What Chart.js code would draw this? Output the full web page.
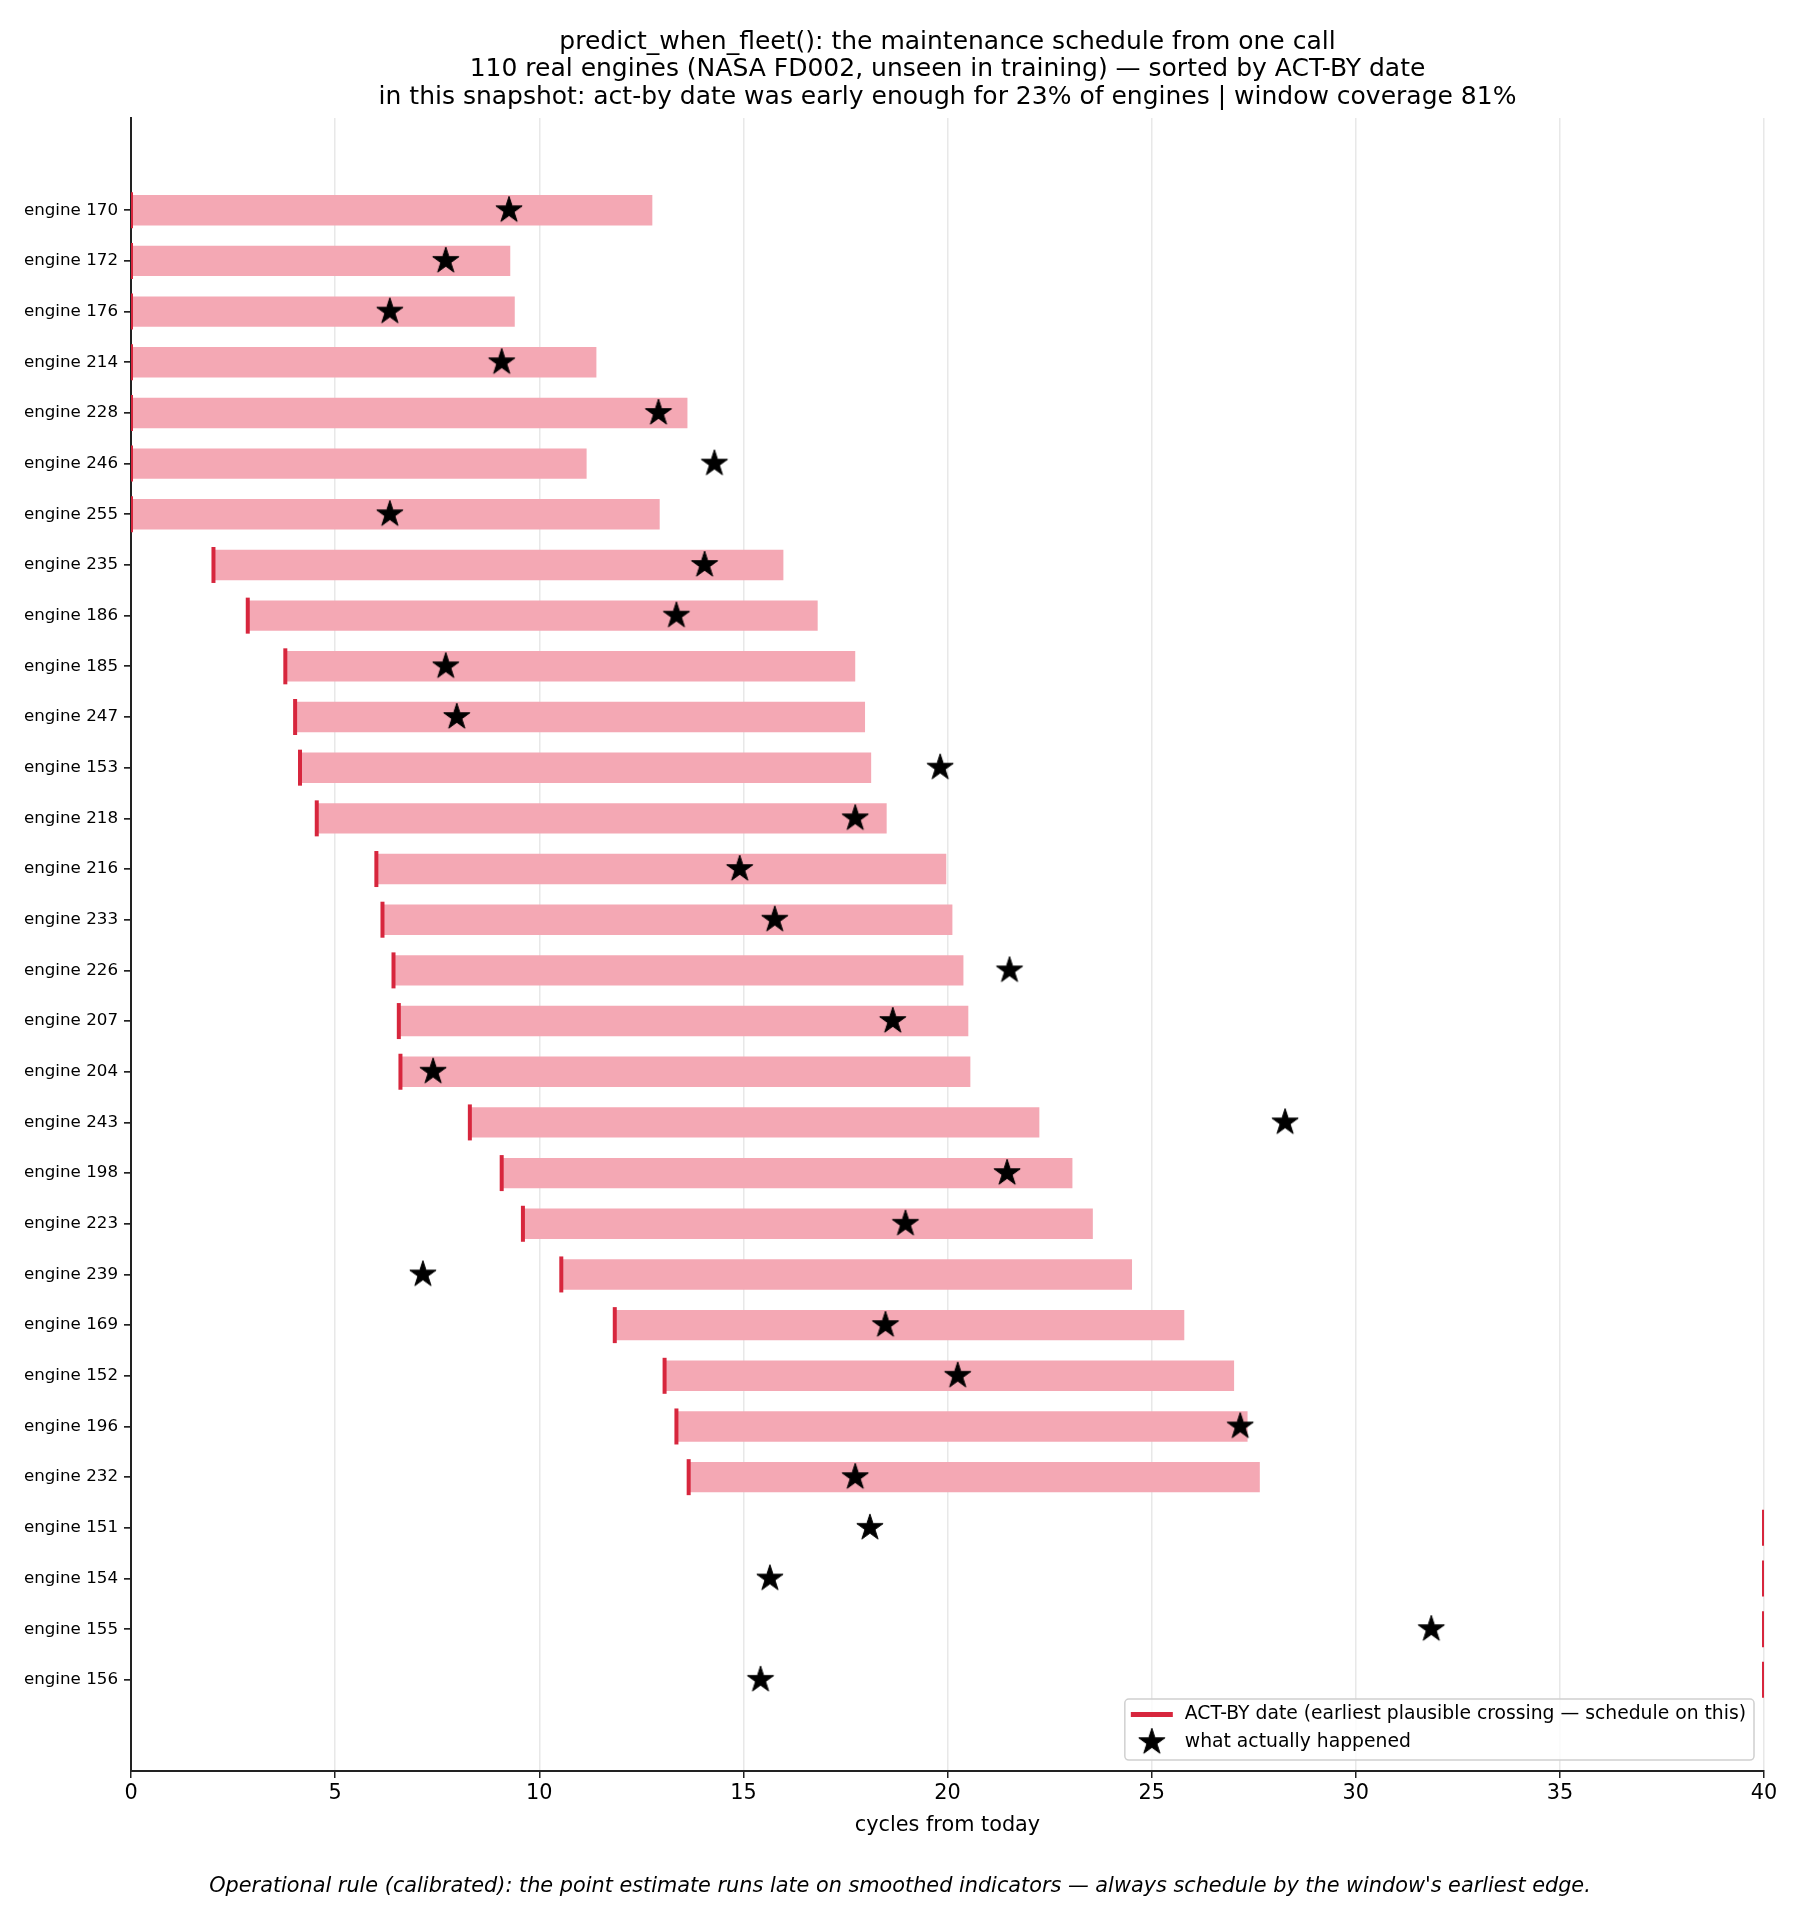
<!DOCTYPE html>
<html>
<head>
<meta charset="utf-8">
<script src="https://cdn.jsdelivr.net/npm/chart.js@4/dist/chart.umd.min.js"></script>
<style>
  html, body { margin: 0; padding: 0; background: #fff; }
  canvas { display: block; }
</style>
</head>
<body>
<canvas id="fleetChart" width="1800" height="1905"></canvas>
<script>
// engines, in the order they are plotted (top to bottom)
const engineIds = [170, 172, 176, 214, 228, 246, 255, 235, 186, 185, 247, 153, 218, 216, 233,
                   226, 207, 204, 243, 198, 223, 239, 169, 152, 196, 232, 151, 154, 155, 156];
// ACT-BY date (start of window), cycles from today
const actBy = [0, 0, 0, 0, 0, 0, 0, 2.02, 2.86, 3.78, 4.02, 4.14, 4.55, 6.01, 6.16,
               6.43, 6.56, 6.60, 8.30, 9.08, 9.60, 10.54, 11.85, 13.07, 13.36, 13.66, 40, 40, 40, 40];
// late edge of the window
const windowEnd = [12.77, 9.29, 9.40, 11.40, 13.63, 11.16, 12.95, 15.98, 16.82, 17.74, 17.98, 18.13, 18.51, 19.97, 20.12,
                   20.39, 20.51, 20.56, 22.25, 23.06, 23.56, 24.52, 25.80, 27.02, 27.35, 27.65, null, null, null, null];
// what actually happened
const actual = [9.26, 7.71, 6.34, 9.08, 12.92, 14.29, 6.34, 14.05, 13.36, 7.71, 7.98, 19.82, 17.74, 14.91, 15.77,
                21.52, 18.66, 7.40, 28.27, 21.46, 18.97, 7.15, 18.48, 20.25, 27.17, 17.74, 18.10, 15.65, 31.85, 15.42];
const xTicksMax = 40;

const engineLabels = engineIds.map(id => 'engine ' + id);
const titleLines = [
    'predict_when_fleet(): the maintenance schedule from one call',
    '110 real engines (NASA FD002, unseen in training) \u2014 sorted by ACT-BY date',
    'in this snapshot: act-by date was early enough for 23% of engines | window coverage 81%'
];
const caption = "Operational rule (calibrated): the point estimate runs late on smoothed indicators \u2014 always schedule by the window's earliest edge.";

const RED = '#d7263d';
const PINK = '#f4a8b4';
const FONT = "'DejaVu Sans', 'Liberation Sans', sans-serif";

// filled star marker (matplotlib '*')
function makeStar(R) {
    const c = document.createElement('canvas');
    const s = Math.ceil(2 * R + 4);
    c.width = s; c.height = s;
    const g = c.getContext('2d');
    g.translate(s / 2, s / 2);
    g.beginPath();
    for (let k = 0; k < 10; k++) {
        const r = k % 2 ? R * 0.382 : R;
        const a = -Math.PI / 2 + k * Math.PI / 5;
        g.lineTo(r * Math.cos(a), r * Math.sin(a));
    }
    g.closePath();
    g.fillStyle = '#000';
    g.fill();
    g.lineWidth = 1;
    g.strokeStyle = '#000';
    g.stroke();
    return c;
}
const starImg = makeStar(13.8);

// titles, caption and legend drawn on the canvas
const decorations = {
    id: 'decorations',
    afterDraw(chart) {
        const ctx = chart.ctx;
        const area = chart.chartArea;
        ctx.save();
        ctx.fillStyle = '#000';
        ctx.textAlign = 'center';
        ctx.textBaseline = 'middle';
        ctx.font = '25px ' + FONT;
        const cx = (area.left + area.right) / 2;
        titleLines.forEach((t, i) => ctx.fillText(t, cx, 42.5 + i * 27.4));

        ctx.font = 'italic 20.8px ' + FONT;
        ctx.fillText(caption, 900, 1887);

        // legend, lower right inside the axes
        ctx.font = '18.75px ' + FONT;
        const items = ['ACT-BY date (earliest plausible crossing \u2014 schedule on this)', 'what actually happened'];
        const textW = Math.max(...items.map(t => ctx.measureText(t).width));
        const w = 60 + textW + 8;
        const h = 61;
        const right = area.right - 10;
        const bottom = area.bottom - 11;
        const left = right - w;
        const top = bottom - h;
        ctx.beginPath();
        ctx.roundRect(left, top, w, h, 4);
        ctx.fillStyle = 'rgba(255,255,255,0.8)';
        ctx.fill();
        ctx.strokeStyle = '#d0d0d0';
        ctx.lineWidth = 1.5;
        ctx.stroke();

        ctx.strokeStyle = RED;
        ctx.lineWidth = 5;
        ctx.beginPath();
        ctx.moveTo(left + 6, top + 15.5);
        ctx.lineTo(left + 48, top + 15.5);
        ctx.stroke();
        ctx.drawImage(starImg, left + 27 - starImg.width / 2, top + 43 - starImg.height / 2);

        ctx.fillStyle = '#000';
        ctx.textAlign = 'left';
        ctx.fillText(items[0], left + 60, top + 15.5);
        ctx.fillText(items[1], left + 60, top + 43);
        ctx.restore();
    }
};

const ctx = document.getElementById('fleetChart').getContext('2d');
new Chart(ctx, {
    type: 'bar',
    data: {
        datasets: [
            {
                type: 'scatter',
                label: 'what actually happened',
                data: actual.map((v, i) => ({ x: v, y: i })),
                pointStyle: starImg,
                pointRadius: 14,
                clip: false,
                order: 0
            },
            {
                type: 'scatter',
                label: 'ACT-BY date',
                data: actBy.map((v, i) => ({ x: v, y: i })),
                pointStyle: 'line',
                rotation: 90,
                pointRadius: 18,
                borderColor: RED,
                backgroundColor: RED,
                pointBorderWidth: 4,
                borderWidth: 4,
                clip: 0,
                order: 1
            },
            {
                type: 'bar',
                label: 'window',
                indexAxis: 'y',
                data: windowEnd.map((v, i) => ({ x: v == null ? null : [actBy[i], v], y: i }))
                              .filter(d => d.x !== null),
                backgroundColor: PINK,
                borderWidth: 0,
                barPercentage: 0.6,
                categoryPercentage: 1,
                order: 2
            }
        ]
    },
    options: {
        responsive: false,
        animation: false,
        devicePixelRatio: 1,
        layout: { padding: { top: 118, right: 36, bottom: 66.5, left: 0 } },
        plugins: {
            legend: { display: false },
            tooltip: { enabled: false },
            title: { display: false }
        },
        scales: {
            x: {
                type: 'linear',
                position: 'bottom',
                offset: false,
                min: 0,
                max: xTicksMax,
                ticks: { stepSize: 5, color: '#000', padding: 3, font: { family: FONT, size: 20.8 } },
                grid: { offset: false, color: '#e8e8e8', lineWidth: 1.5, tickColor: '#222', tickLength: 7 },
                border: { color: '#222', width: 2 },
                title: {
                    display: true,
                    text: 'cycles from today',
                    color: '#000',
                    font: { family: FONT, size: 20.8 },
                    padding: { top: 4.5, bottom: 0 }
                }
            },
            y: {
                type: 'linear',
                offset: false,
                reverse: true,
                min: -1.82,
                max: 30.80,
                afterBuildTicks: scale => {
                    scale.ticks = engineLabels.map((_, i) => ({ value: i }));
                },
                afterFit: scale => { scale.width = 131; },
                ticks: {
                    color: '#000',
                    padding: 6,
                    autoSkip: false,
                    font: { family: FONT, size: 16.7 },
                    callback: v => engineLabels[v]
                },
                grid: { offset: false, drawOnChartArea: false, tickColor: '#222', tickLength: 7, lineWidth: 1.7 },
                border: { color: '#222', width: 2 }
            }
        }
    },
    plugins: [decorations]
});
</script>
</body>
</html>
